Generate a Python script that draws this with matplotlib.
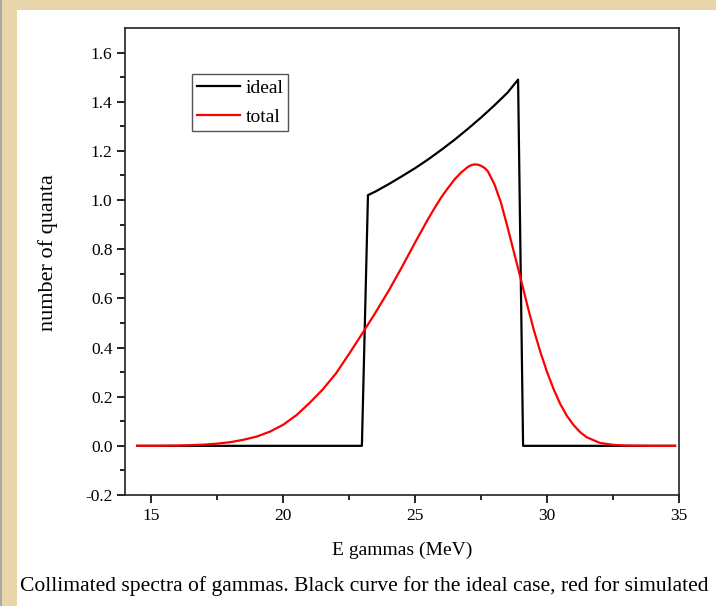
import matplotlib
matplotlib.use("Agg")
import matplotlib.pyplot as plt
from matplotlib.patches import Rectangle

# ideal spectrum (black)
ideal_e = [14.47, 22.98, 23.21, 23.5, 24.0, 24.5, 25.0, 25.5, 26.0, 26.5, 27.0, 27.5, 28.0, 28.5, 28.90, 29.09, 34.85]
ideal_n = [0.0, 0.0, 1.02, 1.035, 1.065, 1.097, 1.13, 1.166, 1.205, 1.246, 1.29, 1.336, 1.385, 1.437, 1.49, 0.0, 0.0]

# simulated total (red)
total_e = [14.47, 15.0, 16.0, 17.0, 17.5, 18.0, 18.5, 19.0, 19.5, 20.0, 20.5, 21.0, 21.5, 22.0, 22.5,
           23.0, 23.5, 24.0, 24.5, 25.0, 25.5, 25.75, 26.0, 26.25, 26.5, 26.75, 27.0, 27.125, 27.25,
           27.375, 27.5, 27.625, 27.75, 28.0, 28.25, 28.5, 28.75, 29.0, 29.25, 29.5, 29.75, 30.0,
           30.25, 30.5, 30.75, 31.0, 31.25, 31.5, 32.0, 32.5, 33.0, 34.0, 34.85]
total_n = [0.0, 0.0, 0.001, 0.005, 0.009, 0.015, 0.025, 0.038, 0.058, 0.086, 0.125, 0.175, 0.23, 0.295, 0.375,
           0.458, 0.543, 0.632, 0.728, 0.828, 0.925, 0.97, 1.013, 1.05, 1.085, 1.113, 1.135, 1.142, 1.145,
           1.144, 1.139, 1.131, 1.118, 1.065, 0.99, 0.89, 0.785, 0.68, 0.572, 0.47, 0.38, 0.30,
           0.23, 0.17, 0.122, 0.085, 0.056, 0.035, 0.012, 0.004, 0.001, 0.0, 0.0]

serif = ["Liberation Serif", "DejaVu Serif"]
plt.rcParams["font.family"] = serif

fig = plt.figure(figsize=(7.16, 6.06), dpi=100)
fig.patch.set_facecolor("#e8d6aa")

# background: white panel and grey edge, drawn in an axes under everything
bg = fig.add_axes([0, 0, 1, 1], zorder=-10)
bg.set_xlim(0, 716)
bg.set_ylim(606, 0)
bg.axis("off")
bg.add_patch(Rectangle((17, 10), 700, 600, facecolor="white", edgecolor="none"))
bg.add_patch(Rectangle((0, 0), 2, 606, facecolor="#a9a9a9", edgecolor="none"))

ax = fig.add_axes([125 / 716, 1 - 495 / 606, 554 / 716, 467 / 606])
ax.set_facecolor("none")
ax.plot(ideal_e, ideal_n, color="black", lw=1.6, label="ideal")
ax.plot(total_e, total_n, color="red", lw=1.6, label="total")

ax.set_xlim(14, 35)
ax.set_ylim(-0.2, 1.7)
ax.set_xticks([15, 20, 25, 30, 35])
ax.set_xticks([17.5, 22.5, 27.5, 32.5], minor=True)
ax.set_yticks([-0.2, 0.0, 0.2, 0.4, 0.6, 0.8, 1.0, 1.2, 1.4, 1.6])
ax.set_yticklabels(["-0.2", "0.0", "0.2", "0.4", "0.6", "0.8", "1.0", "1.2", "1.4", "1.6"])
ax.set_yticks([-0.1, 0.1, 0.3, 0.5, 0.7, 0.9, 1.1, 1.3, 1.5], minor=True)
ax.tick_params(which="major", direction="out", length=6, width=1.2, labelsize=12.5, pad=3)
ax.tick_params(which="minor", direction="out", length=3.5, width=1.2)
for s in ax.spines.values():
    s.set_linewidth(1.2)
    s.set_color("#222222")

ax.set_xlabel("E gammas (MeV)", fontsize=14, labelpad=13)
ax.set_ylabel("number of quanta", fontsize=16)
ax.yaxis.set_label_coords(-0.121, 0.52)

leg = ax.legend(loc="upper left", bbox_to_anchor=(0.121, 0.901), borderaxespad=0,
                fontsize=14, handlelength=2.2, handletextpad=0.3, labelspacing=0.6,
                borderpad=0.25, fancybox=False, framealpha=1)
leg.get_frame().set_edgecolor("#555555")
leg.get_frame().set_linewidth(1.0)

fig.text(20 / 716, 1 - 586 / 606, "Collimated spectra of gammas. Black curve for the ideal case, red for simulated",
         fontsize=15.6, va="center", ha="left")

fig.savefig("out.png", dpi=100, facecolor=fig.get_facecolor())
